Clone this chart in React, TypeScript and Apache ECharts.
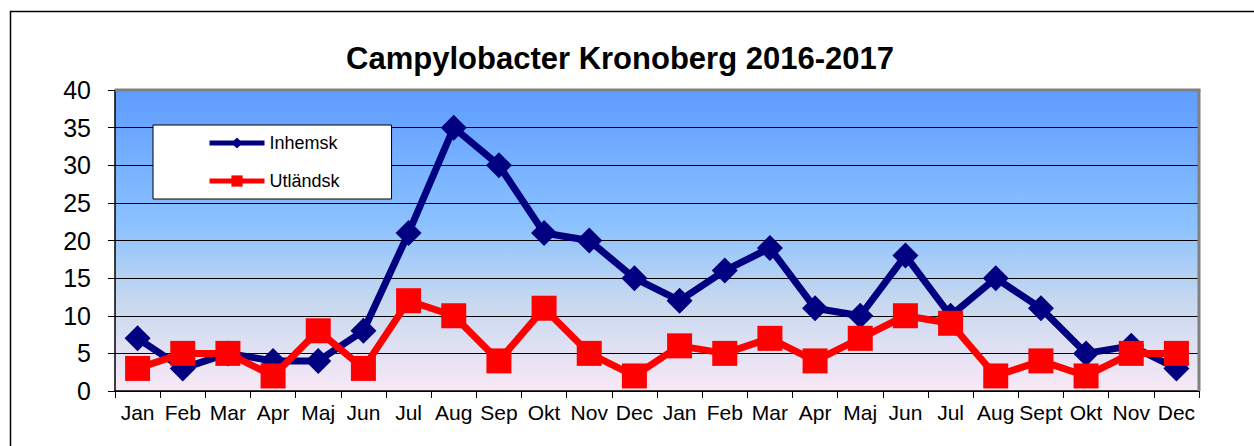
import React, { useEffect, useRef } from "react";
import * as echarts from "echarts";

const categories = [
  "Jan", "Feb", "Mar", "Apr", "Maj", "Jun", "Jul", "Aug", "Sep", "Okt", "Nov", "Dec",
  "Jan", "Feb", "Mar", "Apr", "Maj", "Jun", "Jul", "Aug", "Sept", "Okt", "Nov", "Dec",
];
const inhemsk = [7, 3, 5, 4, 4, 8, 21, 35, 30, 21, 20, 15, 12, 16, 19, 11, 10, 18, 10, 15, 11, 5, 6, 3];
const utlandsk = [3, 5, 5, 2, 8, 3, 12, 10, 4, 11, 5, 2, 6, 5, 7, 4, 7, 10, 9, 2, 4, 2, 5, 5];
const titleText = "Campylobacter Kronoberg 2016-2017";
const FONT = "'Liberation Sans', Arial, sans-serif";

export default function App() {
  const ref = useRef<HTMLDivElement>(null);
  useEffect(() => {
    if (!ref.current) return;
    const chart = echarts.init(ref.current, undefined, { renderer: "svg" });
    const gl = 115, gt = 90, gw = 1084, gh = 301;
    chart.setOption({
      animation: false,
      backgroundColor: "#ffffff",
      textStyle: { fontFamily: FONT },
      grid: {
        left: gl, top: gt, width: gw, height: gh,
        show: true,
        borderWidth: 0,
        backgroundColor: {
          type: "linear", x: 0, y: 0, x2: 0, y2: 1,
          colorStops: [
            { offset: 0, color: "#5E9CFF" },
            { offset: 0.45, color: "#8CC2FF" },
            { offset: 0.7, color: "#C6D8EF" },
            { offset: 1, color: "#F8E8F6" },
          ],
        },
      },
      legend: {
        left: 153, top: 125,
        orient: "vertical",
        backgroundColor: "#ffffff",
        borderColor: "#000000",
        borderWidth: 1,
        padding: [9, 52, 9, 54],
        itemWidth: 55,
        itemHeight: 14,
        itemGap: 20,
        lineStyle: { width: 5 },
        textStyle: { fontSize: 18, color: "#000", fontFamily: FONT },
        data: ["Inhemsk", "Utländsk"],
      },
      xAxis: {
        type: "category",
        data: categories,
        boundaryGap: true,
        axisLine: { show: true, lineStyle: { color: "#000", width: 1.5 } },
        axisTick: { show: true, length: 7, alignWithLabel: false, lineStyle: { color: "#000" } },
        axisLabel: { fontSize: 21, color: "#000", margin: 11, interval: 0, fontFamily: FONT },
        splitLine: { show: false },
      },
      yAxis: {
        type: "value",
        min: 0, max: 40, interval: 5,
        axisLine: { show: true, lineStyle: { color: "#000", width: 1.5 } },
        axisTick: { show: true, length: 7, lineStyle: { color: "#000" } },
        axisLabel: { fontSize: 25, color: "#000", margin: 24, fontFamily: FONT },
        splitLine: { show: true, lineStyle: { color: "#000", width: 1 } },
      },
      series: [
        {
          name: "Inhemsk",
          type: "line",
          data: inhemsk,
          symbol: "diamond",
          symbolSize: 26,
          itemStyle: { color: "#000080" },
          lineStyle: { color: "#000080", width: 7 },
          z: 3,
        },
        {
          name: "Utländsk",
          type: "line",
          data: utlandsk,
          symbol: "rect",
          symbolSize: 25,
          itemStyle: { color: "#FF0000" },
          lineStyle: { color: "#FF0000", width: 7 },
          z: 4,
        },
      ],
      graphic: [
        {
          type: "rect",
          z: 100,
          silent: true,
          shape: { x: 10.5, y: 11.5, width: 1400, height: 600 },
          style: { fill: "none", stroke: "#000", lineWidth: 1.5 },
        },
        {
          type: "line",
          z: 100,
          silent: true,
          shape: { x1: gl, y1: gt, x2: gl + gw + 1.5, y2: gt },
          style: { stroke: "#808080", lineWidth: 3 },
        },
        {
          type: "line",
          z: 100,
          silent: true,
          shape: { x1: gl + gw, y1: gt, x2: gl + gw, y2: gt + gh },
          style: { stroke: "#808080", lineWidth: 3 },
        },
        {
          type: "text",
          z: 100,
          x: 620,
          y: 58,
          style: {
            text: titleText,
            font: `bold 31px ${FONT}`,
            fill: "#000",
            textAlign: "center",
            textVerticalAlign: "middle",
          },
        },
      ],
    });
    return () => chart.dispose();
  }, []);
  return (
    <div
      ref={ref}
      style={{ position: "absolute", left: 0, top: 0, width: 1254, height: 446 }}
    />
  );
}
